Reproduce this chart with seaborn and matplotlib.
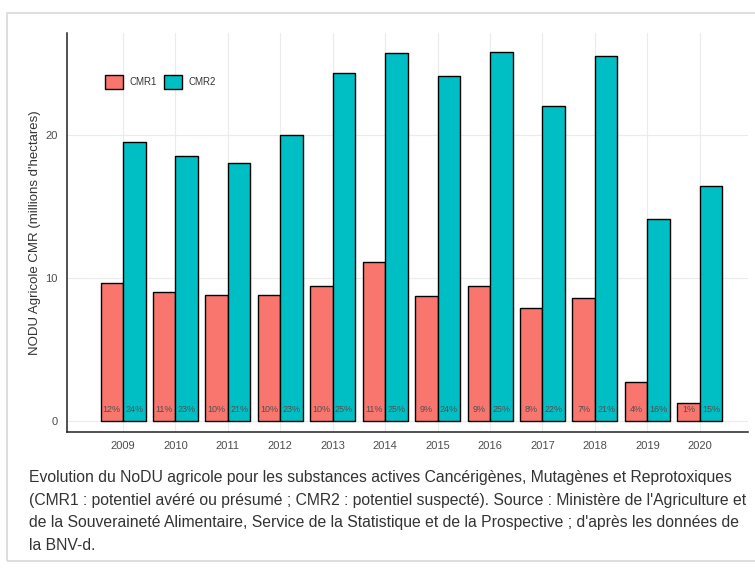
import seaborn as sns
import matplotlib.pyplot as plt
import matplotlib.patches as mpatches
import pandas as pd

years = [str(y) for y in range(2009, 2021)]
cmr1 = [9.65, 9.0, 8.8, 8.8, 9.4, 11.1, 8.7, 9.4, 7.9, 8.6, 2.7, 1.2]
cmr2 = [19.5, 18.5, 18.0, 20.0, 24.3, 25.7, 24.1, 25.8, 22.0, 25.5, 14.1, 16.4]
pct1 = ["12%", "11%", "10%", "10%", "10%", "11%", "9%", "9%", "8%", "7%", "4%", "1%"]
pct2 = ["24%", "23%", "21%", "23%", "25%", "25%", "24%", "25%", "22%", "21%", "16%", "15%"]

caption = ("Evolution du NoDU agricole pour les substances actives Cancérigènes, Mutagènes et Reprotoxiques\n"
           "(CMR1 : potentiel avéré ou présumé ; CMR2 : potentiel suspecté). Source : Ministère de l'Agriculture et\n"
           "de la Souveraineté Alimentaire, Service de la Statistique et de la Prospective ; d'après les données de\n"
           "la BNV-d.")

df = pd.DataFrame({
    "Année": years * 2,
    "NODU": cmr1 + cmr2,
    "Type": ["CMR1"] * len(years) + ["CMR2"] * len(years),
})

sns.set_style("white")
plt.rcParams["font.family"] = ["Liberation Sans", "DejaVu Sans"]

fig = plt.figure(figsize=(7.55, 5.68), dpi=100)
ax = fig.add_axes([0.0887, 0.2394, 0.902, 0.7026])

sns.barplot(data=df, x="Année", y="NODU", hue="Type",
            palette={"CMR1": "#F8766D", "CMR2": "#00BFC4"}, saturation=1,
            width=0.86, edgecolor="black", linewidth=1.0, ax=ax, zorder=3)

# percentage labels near the base of each bar
for cont, labels in zip(ax.containers, [pct1, pct2]):
    for bar, lab in zip(cont, labels):
        ax.text(bar.get_x() + bar.get_width() / 2, 0.8, lab, ha="center", va="center",
                fontsize=6.5, color="#505050", zorder=4)

ax.set_ylim(-0.8, 27.1)
ax.set_xlim(-1.07, 11.92)
ax.set_yticks([0, 10, 20])
ax.grid(True, color="#ebebeb", linewidth=0.8, zorder=0)
ax.set_axisbelow(True)
for s in ["top", "right"]:
    ax.spines[s].set_visible(False)
for s in ["left", "bottom"]:
    ax.spines[s].set_color("#222222")
    ax.spines[s].set_linewidth(1.1)
ax.tick_params(axis="both", length=3, color="#333333", labelsize=8, labelcolor="#4d4d4d", width=0.8)
ax.set_xlabel("")
ax.set_ylabel("NODU Agricole CMR (millions d'hectares)", fontsize=9.5, color="#333333", labelpad=3)

handles = [mpatches.Patch(facecolor="#F8766D", edgecolor="black", label="CMR1"),
           mpatches.Patch(facecolor="#00BFC4", edgecolor="black", label="CMR2")]
ax.legend(handles=handles, loc="center left", bbox_to_anchor=(0.043, 0.877), ncol=2, frameon=False,
          fontsize=7, labelcolor="#333333", handlelength=1.8, handleheight=1.9, columnspacing=0.8,
          handletextpad=0.7)

fig.text(0.039, 0.172, caption, ha="left", va="top", fontsize=11.3, color="#333333", linespacing=1.62)

fig.patches.append(mpatches.Rectangle((0.009, 0.012), 1.0, 0.965, transform=fig.transFigure,
                                      fill=False, edgecolor="#d9d9d9", linewidth=1.2))

fig.savefig("out.png", dpi=100)
